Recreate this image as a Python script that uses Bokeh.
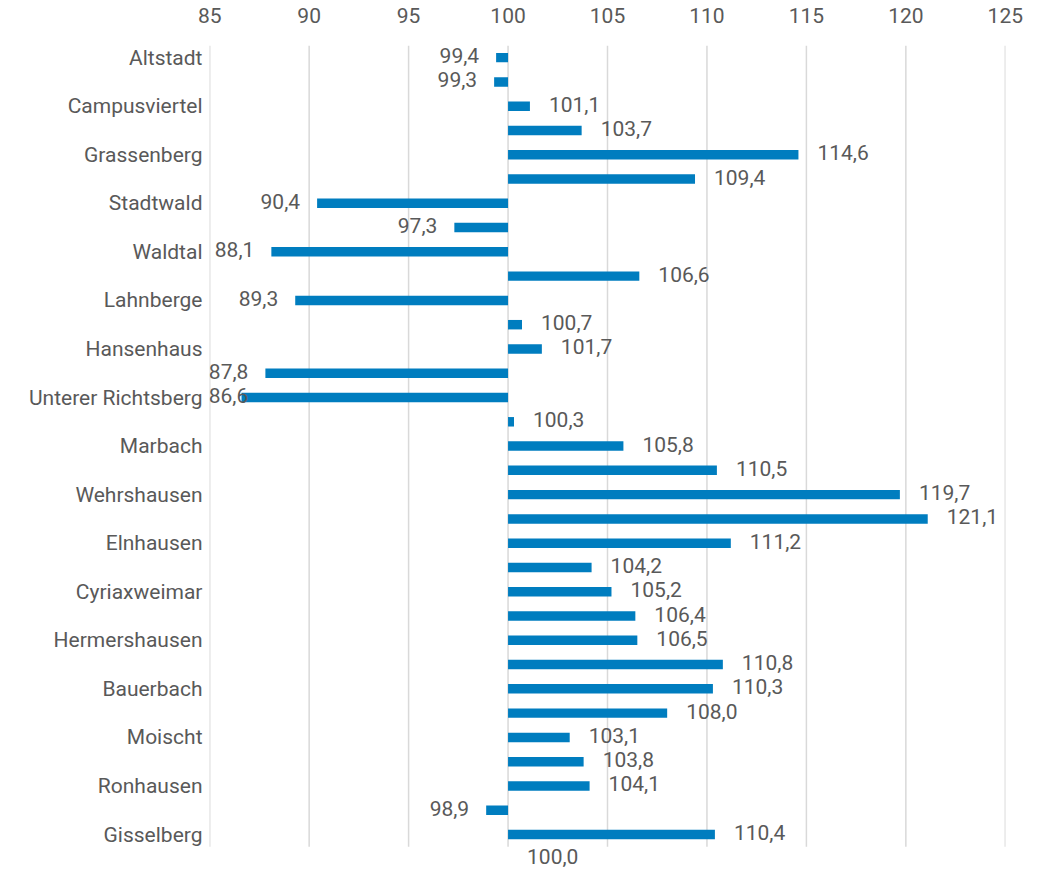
from bokeh.plotting import figure
from bokeh.models import Range1d, FixedTicker, ColumnDataSource, Label
from bokeh.embed import file_html
from bokeh.resources import INLINE

# ---- data ----
districts = ["Altstadt", "Campusviertel", "Grassenberg", "Stadtwald", "Waldtal",
             "Lahnberge", "Hansenhaus", "Unterer Richtsberg", "Marbach",
             "Wehrshausen", "Elnhausen", "Cyriaxweimar", "Hermershausen",
             "Bauerbach", "Moischt", "Ronhausen", "Gisselberg"]
values = [99.4, 99.3, 101.1, 103.7, 114.6, 109.4, 90.4, 97.3, 88.1, 106.6,
          89.3, 100.7, 101.7, 87.8, 86.6, 100.3, 105.8, 110.5, 119.7, 121.1,
          111.2, 104.2, 105.2, 106.4, 106.5, 110.8, 110.3, 108.0, 103.1, 103.8,
          104.1, 98.9, 110.4, 100.0]
x_ticks = [85, 90, 95, 100, 105, 110, 115, 120, 125]
baseline = 100.0
x_min, x_max = 85, 125

FONT = "Roboto"
FS = "21px"
TXT = "#595959"
BAR = "#007dbf"

rows = list(range(1, len(values) + 1))
labels = [f"{v:.1f}".replace(".", ",") for v in values]
label_rows = rows[::2]
grid_top = 0.5
grid_bottom = label_rows[-1] + 0.5

p = figure(width=1024, height=870,
           x_range=Range1d(x_min - 0.01, x_max + 0.01),
           y_range=Range1d(len(values) + 0.4, 0.5),
           x_axis_location="above",
           output_backend="svg", toolbar_location=None,
           min_border_left=209, min_border_right=19,
           min_border_top=45, min_border_bottom=2)
p.outline_line_color = None
p.background_fill_color = "white"
p.border_fill_color = "white"

# vertical grid lines (stop below the last labelled category, like the original)
p.segment(x0=x_ticks, x1=x_ticks, y0=[grid_top] * len(x_ticks),
          y1=[grid_bottom] * len(x_ticks), line_color="#d9d9d9", line_width=1.5)

src = ColumnDataSource(dict(y=rows, right=values, left=[baseline] * len(values)))
p.hbar(y="y", left="left", right="right", height=0.39, source=src,
       fill_color=BAR, line_color=None)

# axes
xa = p.xaxis[0]
xa.ticker = FixedTicker(ticks=x_ticks)
xa.axis_line_color = None
xa.major_tick_line_color = None
xa.minor_tick_line_color = None
xa.major_tick_out = 0
xa.major_tick_in = 0
xa.major_label_text_font = FONT
xa.major_label_text_font_size = FS
xa.major_label_text_color = TXT
xa.major_label_standoff = 23

ya = p.yaxis[0]
ya.ticker = FixedTicker(ticks=label_rows)
ya.major_label_overrides = {r: n for r, n in zip(label_rows, districts)}
ya.axis_line_color = None
ya.major_tick_line_color = None
ya.minor_tick_line_color = None
ya.major_tick_out = 0
ya.major_tick_in = 0
ya.major_label_text_font = FONT
ya.major_label_text_font_size = FS
ya.major_label_text_color = TXT
ya.major_label_standoff = 7

p.xgrid.grid_line_color = None
p.ygrid.grid_line_color = None

# data labels (outside end of each bar)
label_room = 3.0  # approx. label width + gap in data units
for r, v, t in zip(rows, values, labels):
    if v >= baseline:
        x, align, off = v, "left", 19
    elif v - label_room < x_min - 0.25:
        x, align, off = x_min, "left", -1
    else:
        x, align, off = v, "right", -17
    p.add_layout(Label(x=x, y=r, text=t, x_units="data", y_units="data",
                       text_align=align, text_baseline="middle",
                       x_offset=off, y_offset=2,
                       text_font=FONT, text_font_size=FS, text_color=TXT))

open("out.html", "w").write(file_html(p, INLINE))
